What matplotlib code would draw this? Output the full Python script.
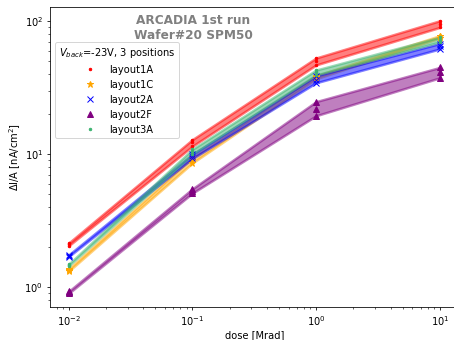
import matplotlib
matplotlib.use("Agg")
import matplotlib.pyplot as plt
import numpy as np

# doses [Mrad]
dose = [0.01, 0.1, 1.0, 10.0]

# delta I / A [nA/cm^2], 3 positions per dose
layout1A = [[2.15, 2.10, 2.05], [12.9, 12.3, 11.5], [53, 50, 47], [101, 96, 90]]
layout1C = [[1.37, 1.34, 1.32], [9.5, 9.0, 8.6], [39, 38, 37], [78, 77, 75]]
layout2A = [[1.75, 1.72, 1.70], [10.0, 9.7, 9.3], [38.9, 36.3, 34.5], [68, 65, 62]]
layout2F = [[0.93, 0.92, 0.90], [5.5, 5.3, 5.1], [24.9, 22, 19.5], [45, 41.7, 37.6]]
layout3A = [[1.49, 1.47, 1.45], [10.9, 10.5, 10.0], [43, 41.6, 39.5], [76, 72.5, 70]]

names = ["layout1A", "layout1C", "layout2A", "layout2F", "layout3A"]
series = [layout1A, layout1C, layout2A, layout2F, layout3A]
colors = ["red", "orange", "blue", "purple", "mediumseagreen"]
markers = [".", "*", "x", "^", "."]
msizes = [5, 6.5, 6, 6.5, 5]

fig, ax = plt.subplots(figsize=(6.42, 4.8), dpi=70.85)
fig.subplots_adjust(left=0.11, right=1.008, top=0.979, bottom=0.097)

for name, vals, c, m, ms in zip(names, series, colors, markers, msizes):
    v = np.array(vals)
    lo = v.min(axis=1)
    hi = v.max(axis=1)
    ax.fill_between(dose, lo, hi, color=c, alpha=0.5, linewidth=2.5)
    for k in range(v.shape[1]):
        ax.plot(dose, v[:, k], linestyle="none", marker=m, color=c, markersize=ms,
                label=name if k == 0 else None)

ax.set_xscale("log")
ax.set_yscale("log")
ax.set_xlabel("dose [Mrad]", labelpad=2)
ax.set_ylabel(r"$\Delta$I/A [nA/cm$^2$]", labelpad=1)

ax.text(0.35, 0.93, "ARCADIA 1st run\nWafer#20 SPM50", transform=ax.transAxes,
        ha="center", va="center", fontsize=12.3, fontweight="bold", color="gray")

ax.legend(title=r"$V_{back}$=-23V, 3 positions", loc="upper left",
          bbox_to_anchor=(0, 0.90), handletextpad=1.0)

fig.savefig("out.png", dpi=70.85)
